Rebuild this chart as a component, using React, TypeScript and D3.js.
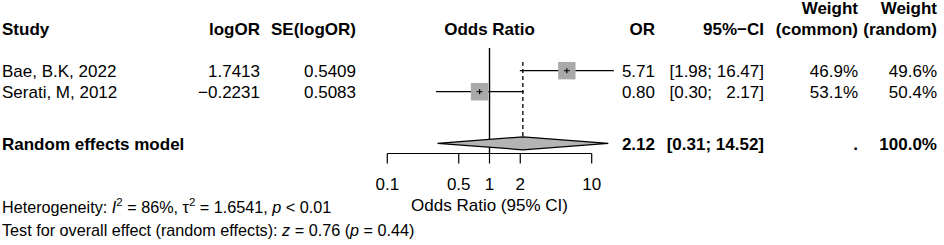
import React from "react";
import * as d3 from "d3";

const studies = ["Bae, B.K, 2022", "Serati, M, 2012"];
const logOR = ["1.7413", "\u22120.2231"];
const seLogOR = ["0.5409", "0.5083"];
const orValues = [5.71, 0.8];
const ciLower = [1.98, 0.3];
const ciUpper = [16.47, 2.17];
const weightCommon = [46.9, 53.1];
const weightRandom = [49.6, 50.4];
const pooledLabel = "Random effects model";
const pooled = { or: 2.12, lower: 0.31, upper: 14.52, wc: ".", wr: "100.0%" };
const ticks = [0.1, 0.5, 1, 2, 10];
const tickLabels = ["0.1", "0.5", "1", "2", "10"];

const W = 944;
const H = 245;
const FONT = "'Liberation Sans', Arial, Helvetica, sans-serif";
const FS = 17;
const FS_FOOT = 16.2;

function fmtCI(lo: number, hi: number) {
  const a = lo.toFixed(2);
  const b = hi.toFixed(2);
  const pad = b.length < 5 ? " ".repeat((5 - b.length) * 2) : "";
  return `[${a}; ${pad}${b}]`;
}

export default function App() {
  const x = d3.scaleLog().domain([0.1, 10]).range([387.3, 591.7]);
  const rowY = d3.scaleLinear().domain([0, 1]).range([70.7, 91.7]);
  const pooledY = 143.3;
  const axisY = 153.5;
  const sq = d3.scaleSqrt().domain([0, 50.4]).range([0, 17.5]);

  const colStudy = 2;
  const colLogOR = 260;
  const colSE = 356;
  const colOR = 655;
  const colCI = 764;
  const colWC = 858;
  const colWR = 937;

  const textBase = 6.5; // baseline offset from row centre

  const dm = 6.5; // diamond half-height
  const diamond = [
    [x(pooled.lower), pooledY],
    [x(pooled.or), pooledY - dm],
    [x(pooled.upper), pooledY],
    [x(pooled.or), pooledY + dm],
  ]
    .map((p) => p.join(","))
    .join(" ");

  return (
    <div style={{ position: "fixed", left: 0, top: 0, background: "#fff" }}>
      <svg width={W} height={H} style={{ display: "block" }} fontFamily={FONT} fontSize={FS}>
        <rect width={W} height={H} fill="#fff" />
        {/* headers */}
        <g fontWeight="bold">
          <text x={colStudy} y={35}>Study</text>
          <text x={colLogOR} y={35} textAnchor="end">logOR</text>
          <text x={colSE} y={35} textAnchor="end">SE(logOR)</text>
          <text x={x(1)} y={35} textAnchor="middle">Odds Ratio</text>
          <text x={colOR} y={35} textAnchor="end">OR</text>
          <text x={colCI} y={35} textAnchor="end">95%−CI</text>
          <text x={colWC} y={13.5} textAnchor="end">Weight</text>
          <text x={colWC} y={35} textAnchor="end">(common)</text>
          <text x={colWR} y={13.5} textAnchor="end">Weight</text>
          <text x={colWR} y={35} textAnchor="end">(random)</text>
        </g>

        {/* reference line at 1 */}
        <line x1={x(1)} x2={x(1)} y1={48} y2={axisY} stroke="#000" strokeWidth={1.4} />
        {/* dashed pooled line */}
        <line
          x1={x(pooled.or)}
          x2={x(pooled.or)}
          y1={62}
          y2={pooledY - dm}
          stroke="#000"
          strokeWidth={1.3}
          strokeDasharray="4,3"
        />

        {/* study rows */}
        {studies.map((s, i) => {
          const cy = rowY(i);
          const size = sq(weightRandom[i]);
          const cx = x(orValues[i]);
          return (
            <g key={s}>
              <line x1={x(ciLower[i])} x2={x(ciUpper[i])} y1={cy} y2={cy} stroke="#000" strokeWidth={1.3} />
              <rect x={cx - size / 2} y={cy - size / 2} width={size} height={size} fill="#a9a9a9" />
              <line x1={cx - 3} x2={cx + 3} y1={cy} y2={cy} stroke="#000" strokeWidth={1} />
              <line x1={cx} x2={cx} y1={cy - 2.5} y2={cy + 2.5} stroke="#000" strokeWidth={1.2} />
              <text x={colStudy} y={cy + textBase}>{s}</text>
              <text x={colLogOR} y={cy + textBase} textAnchor="end">{logOR[i]}</text>
              <text x={colSE} y={cy + textBase} textAnchor="end">{seLogOR[i]}</text>
              <text x={colOR} y={cy + textBase} textAnchor="end">{orValues[i].toFixed(2)}</text>
              <text x={colCI} y={cy + textBase} textAnchor="end" style={{ whiteSpace: "pre" }}>
                {fmtCI(ciLower[i], ciUpper[i])}
              </text>
              <text x={colWC} y={cy + textBase} textAnchor="end">{weightCommon[i].toFixed(1)}%</text>
              <text x={colWR} y={cy + textBase} textAnchor="end">{weightRandom[i].toFixed(1)}%</text>
            </g>
          );
        })}

        {/* pooled row */}
        <polygon points={diamond} fill="#b4b4b4" stroke="#000" strokeWidth={1.2} />
        <g fontWeight="bold">
          <text x={colStudy} y={pooledY + textBase}>{pooledLabel}</text>
          <text x={colOR} y={pooledY + textBase} textAnchor="end">{pooled.or.toFixed(2)}</text>
          <text x={colCI} y={pooledY + textBase} textAnchor="end" style={{ whiteSpace: "pre" }}>
            {fmtCI(pooled.lower, pooled.upper)}
          </text>
          <text x={colWC} y={pooledY + textBase} textAnchor="end">{pooled.wc}</text>
          <text x={colWR} y={pooledY + textBase} textAnchor="end">{pooled.wr}</text>
        </g>

        {/* axis */}
        <line x1={x(0.1)} x2={x(10)} y1={axisY} y2={axisY} stroke="#000" strokeWidth={1.2} />
        {ticks.map((t, i) => (
          <g key={t}>
            <line x1={x(t)} x2={x(t)} y1={axisY} y2={axisY + 10} stroke="#000" strokeWidth={1.2} />
            <text x={x(t)} y={190} textAnchor="middle">{tickLabels[i]}</text>
          </g>
        ))}
        <text x={x(1)} y={210.5} textAnchor="middle">Odds Ratio (95% CI)</text>

        {/* footer */}
        <text x={colStudy} y={213.3} fontSize={FS_FOOT}>
          Heterogeneity: <tspan fontStyle="italic">I</tspan>
          <tspan fontSize={11.5} dy={-7}>2</tspan>
          <tspan dy={7}> = 86%, τ</tspan>
          <tspan fontSize={11.5} dy={-7}>2</tspan>
          <tspan dy={7}> = 1.6541, </tspan>
          <tspan fontStyle="italic">p</tspan>
          <tspan> &lt; 0.01</tspan>
        </text>
        <text x={colStudy} y={235.7} fontSize={FS_FOOT}>
          Test for overall effect (random effects): <tspan fontStyle="italic">z</tspan> = 0.76 (
          <tspan fontStyle="italic">p</tspan> = 0.44)
        </text>
      </svg>
    </div>
  );
}
